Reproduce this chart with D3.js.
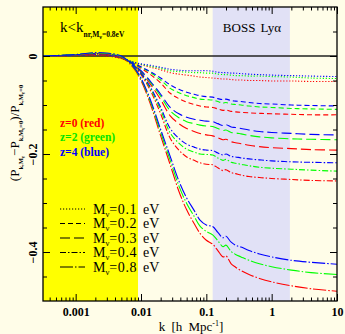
<!DOCTYPE html>
<html>
<head>
<meta charset="utf-8">
<script src="https://cdn.jsdelivr.net/npm/d3@7/dist/d3.min.js"></script>
<style>
  html, body { margin: 0; padding: 0; background: #fffde8; }
  svg { display: block; }
  text { font-family: "Liberation Serif", "DejaVu Serif", serif; fill: #000; }
</style>
</head>
<body>
<svg id="chart" width="345" height="334"></svg>
<script>
// wavenumbers k [h/Mpc] at which the power-spectrum ratios are tabulated
const kGrid = [0.000316, 0.001, 0.002, 0.003, 0.005, 0.0075, 0.01, 0.014, 0.02, 0.028, 0.038, 0.05, 0.065, 0.08,
               0.1, 0.125, 0.15, 0.18, 0.2, 0.24, 0.28, 0.34, 0.45, 0.65, 1, 2, 4, 10];

// (P_{k,Mnu} - P_{k,Mnu=0}) / P_{k,Mnu=0}, one array per neutrino mass and redshift
const m01_z0 = [0, 0.001, 0.001, 0.000, -0.005, -0.013, -0.018, -0.023, -0.028, -0.034, -0.037, -0.039, -0.041, -0.043, -0.044, -0.045, -0.046, -0.047, -0.047, -0.048, -0.049, -0.049, -0.050, -0.050, -0.051, -0.051, -0.052, -0.052];
const m01_z2 = [0, 0.001, 0.002, 0.001, -0.004, -0.012, -0.017, -0.021, -0.025, -0.030, -0.032, -0.033, -0.034, -0.034, -0.035, -0.035, -0.037, -0.038, -0.038, -0.039, -0.040, -0.040, -0.041, -0.041, -0.042, -0.043, -0.045, -0.046];
const m01_z4 = [0, 0.001, 0.002, 0.001, -0.004, -0.012, -0.016, -0.019, -0.023, -0.027, -0.029, -0.030, -0.030, -0.030, -0.030, -0.031, -0.033, -0.034, -0.034, -0.035, -0.035, -0.036, -0.037, -0.038, -0.039, -0.040, -0.041, -0.042];

const m02_z0 = [0, 0.001, 0.002, 0.001, -0.005, -0.015, -0.025, -0.038, -0.055, -0.076, -0.087, -0.094, -0.099, -0.102, -0.104, -0.105, -0.108, -0.111, -0.110, -0.113, -0.114, -0.115, -0.116, -0.117, -0.118, -0.119, -0.120, -0.120];
const m02_z2 = [0, 0.001, 0.003, 0.002, -0.004, -0.014, -0.023, -0.034, -0.049, -0.066, -0.075, -0.081, -0.085, -0.088, -0.089, -0.090, -0.093, -0.096, -0.095, -0.098, -0.099, -0.100, -0.102, -0.104, -0.105, -0.107, -0.108, -0.109];
const m02_z4 = [0, 0.001, 0.003, 0.002, -0.004, -0.014, -0.022, -0.032, -0.045, -0.059, -0.068, -0.074, -0.078, -0.081, -0.083, -0.084, -0.087, -0.089, -0.088, -0.091, -0.092, -0.093, -0.095, -0.097, -0.098, -0.100, -0.101, -0.102];

const m03_z0 = [0, 0.001, 0.003, 0.002, -0.004, -0.017, -0.033, -0.058, -0.089, -0.122, -0.138, -0.148, -0.154, -0.158, -0.161, -0.163, -0.167, -0.171, -0.170, -0.175, -0.177, -0.179, -0.182, -0.185, -0.187, -0.189, -0.191, -0.192];
const m03_z2 = [0, 0.002, 0.004, 0.003, -0.003, -0.016, -0.031, -0.054, -0.082, -0.112, -0.126, -0.134, -0.138, -0.141, -0.143, -0.144, -0.148, -0.152, -0.151, -0.156, -0.157, -0.159, -0.162, -0.165, -0.167, -0.169, -0.170, -0.171];
const m03_z4 = [0, 0.002, 0.004, 0.003, -0.003, -0.016, -0.030, -0.052, -0.078, -0.105, -0.118, -0.125, -0.129, -0.131, -0.133, -0.134, -0.138, -0.142, -0.140, -0.145, -0.146, -0.148, -0.151, -0.154, -0.156, -0.158, -0.160, -0.161];

const m04_z0 = [0, 0.002, 0.004, 0.003, -0.003, -0.019, -0.038, -0.071, -0.118, -0.168, -0.192, -0.206, -0.213, -0.218, -0.221, -0.222, -0.228, -0.234, -0.232, -0.238, -0.240, -0.243, -0.246, -0.248, -0.250, -0.252, -0.254, -0.255];
const m04_z2 = [0, 0.002, 0.005, 0.004, -0.002, -0.018, -0.036, -0.067, -0.110, -0.157, -0.178, -0.190, -0.196, -0.200, -0.201, -0.202, -0.208, -0.213, -0.211, -0.217, -0.219, -0.221, -0.224, -0.227, -0.229, -0.231, -0.233, -0.235];
const m04_z4 = [0, 0.002, 0.005, 0.004, -0.002, -0.017, -0.035, -0.064, -0.105, -0.148, -0.168, -0.180, -0.186, -0.190, -0.192, -0.193, -0.198, -0.202, -0.200, -0.205, -0.206, -0.208, -0.210, -0.212, -0.214, -0.216, -0.217, -0.218];

const m08_z0 = [0, 0.002, 0.005, 0.004, -0.002, -0.023, -0.050, -0.099, -0.163, -0.222, -0.276, -0.314, -0.342, -0.362, -0.376, -0.384, -0.397, -0.410, -0.408, -0.424, -0.431, -0.438, -0.446, -0.454, -0.461, -0.469, -0.475, -0.480];
const m08_z2 = [0, 0.003, 0.006, 0.005, -0.001, -0.021, -0.047, -0.094, -0.156, -0.213, -0.265, -0.301, -0.327, -0.347, -0.358, -0.365, -0.377, -0.389, -0.386, -0.399, -0.405, -0.410, -0.417, -0.424, -0.430, -0.437, -0.442, -0.446];
const m08_z4 = [0, 0.003, 0.007, 0.006, 0.000, -0.020, -0.045, -0.090, -0.150, -0.205, -0.255, -0.290, -0.315, -0.335, -0.345, -0.348, -0.360, -0.371, -0.368, -0.380, -0.386, -0.390, -0.397, -0.404, -0.410, -0.417, -0.421, -0.425];

const massLabels = ["0.1", "0.2", "0.3", "0.4", "0.8"];
const redshiftLabels = ["z=0 (red)", "z=2 (green)", "z=4 (blue)"];
const redshiftColors = ["#ff0000", "#00ff00", "#0000ff"];
const redshiftTextColors = ["#ff0000", "#00e600", "#0000ff"];
const xTickValues = [0.001, 0.01, 0.1, 1, 10];
const xTickLabels = ["0.001", "0.01", "0.1", "1", "10"];
const yTickValues = [0, -0.2, -0.4];
const yTickLabels = ["0", "\u22120.2", "\u22120.4"];
const nonlinearLimit = 0.009;       // k below k_nr for the 0.8 eV case
const bossRange = [0.125, 1.9];     // BOSS Lyman-alpha k range

// series grouped by mass (rows) and redshift (columns: z=0, z=2, z=4)
const seriesByMass = [
  [m01_z0, m01_z2, m01_z4],
  [m02_z0, m02_z2, m02_z4],
  [m03_z0, m03_z2, m03_z4],
  [m04_z0, m04_z2, m04_z4],
  [m08_z0, m08_z2, m08_z4]
];
const dashes = ["1.2,1.8", "5,3", "10,4", "6,2,1.5,2", "13,2,1.5,2"];

const svg = d3.select("#chart");
const L = 43, R = 337, T = 7, B = 301;

const x = d3.scaleLog().domain([Math.pow(10, -3.5), 10]).range([L, R]);
const y = d3.scaleLinear().domain([-0.5, 0.1]).range([B, T]);

svg.append("defs").append("clipPath").attr("id", "plotclip")
  .append("rect").attr("x", L).attr("y", T).attr("width", R - L).attr("height", B - T);

// shaded k ranges
svg.append("rect").attr("x", L).attr("y", T)
  .attr("width", x(nonlinearLimit) - L).attr("height", B - T).attr("fill", "#ffff00");
svg.append("rect").attr("x", x(bossRange[0])).attr("y", T)
  .attr("width", x(bossRange[1]) - x(bossRange[0])).attr("height", B - T).attr("fill", "#e1e1f6");

// zero reference line
svg.append("line").attr("x1", L).attr("x2", R).attr("y1", y(0)).attr("y2", y(0))
  .attr("stroke", "#222").attr("stroke-width", 1.3);

// ratio curves
const line = d3.line().x((d, i) => x(kGrid[i])).y(d => y(d)).curve(d3.curveCatmullRom.alpha(0.5));
const curves = svg.append("g").attr("clip-path", "url(#plotclip)");
seriesByMass.forEach((row, mi) => {
  row.forEach((vals, zi) => {
    curves.append("path").datum(vals)
      .attr("d", line)
      .attr("fill", "none")
      .attr("stroke", redshiftColors[zi])
      .attr("stroke-width", 1.1)
      .attr("stroke-dasharray", dashes[mi]);
  });
});

// axes with inward ticks on all four sides
const minorX = [];
for (let e = -4; e <= 0; e++) for (let m = 2; m <= 9; m++) {
  const v = m * Math.pow(10, e);
  if (v > x.domain()[0] && v < 10) minorX.push(v);
}
const minorY = d3.range(-0.45, 0.1, 0.05).map(v => +v.toFixed(2)).filter(v => yTickValues.indexOf(v) < 0);

function styleAxis(g) {
  g.select(".domain").remove();
  g.selectAll(".tick line").attr("stroke", "#000").attr("stroke-width", 1);
}

svg.append("g").attr("transform", `translate(0,${B})`)
  .call(d3.axisBottom(x).tickValues(xTickValues).tickSize(-7).tickPadding(15)
    .tickFormat((d, i) => xTickLabels[i]))
  .call(styleAxis)
  .call(g => g.selectAll("text").attr("font-size", 12).attr("font-weight", "bold")
    .attr("font-family", "Liberation Serif").attr("dy", 0));
svg.append("g").attr("transform", `translate(0,${B})`)
  .call(d3.axisBottom(x).tickValues(minorX).tickSize(-3.5).tickFormat(""))
  .call(styleAxis);
svg.append("g").attr("transform", `translate(0,${T})`)
  .call(d3.axisTop(x).tickValues(xTickValues).tickSize(-7).tickFormat(""))
  .call(styleAxis);
svg.append("g").attr("transform", `translate(0,${T})`)
  .call(d3.axisTop(x).tickValues(minorX).tickSize(-3.5).tickFormat(""))
  .call(styleAxis);

svg.append("g").attr("transform", `translate(${L},0)`)
  .call(d3.axisLeft(y).tickValues(yTickValues).tickSize(-7)
    .tickFormat((d, i) => yTickLabels[i]))
  .call(styleAxis)
  .call(g => g.selectAll("text")
    .attr("transform", "rotate(-90)")
    .attr("x", 0).attr("y", -6).attr("dy", 0)
    .attr("text-anchor", "middle")
    .attr("font-size", 12).attr("font-weight", "bold").attr("font-family", "Liberation Serif"));
svg.append("g").attr("transform", `translate(${L},0)`)
  .call(d3.axisLeft(y).tickValues(minorY).tickSize(-4).tickFormat(""))
  .call(styleAxis);
svg.append("g").attr("transform", `translate(${R},0)`)
  .call(d3.axisRight(y).tickValues(yTickValues).tickSize(-7).tickFormat(""))
  .call(styleAxis);
svg.append("g").attr("transform", `translate(${R},0)`)
  .call(d3.axisRight(y).tickValues(minorY).tickSize(-4).tickFormat(""))
  .call(styleAxis);

// frame
svg.append("rect").attr("x", L).attr("y", T).attr("width", R - L).attr("height", B - T)
  .attr("fill", "none").attr("stroke", "#000").attr("stroke-width", 1.3);

// text with sub/subscript levels: parts = [[string, level, bold?], ...]
function rich(textSel, parts, size, scale) {
  const shift = [0, 0.3, 0.45];
  let cur = 0;
  parts.forEach(([s, lvl, bold]) => {
    const off = shift[lvl] * size;
    const ts = textSel.append("tspan")
      .attr("dy", off - cur)
      .attr("font-size", size * scale[lvl])
      .text(s);
    if (bold) ts.attr("font-weight", "bold");
    cur = off;
  });
  return textSel;
}

// y-axis title
const yTitle = svg.append("text")
  .attr("transform", "translate(19,133) rotate(-90)")
  .attr("text-anchor", "middle");
rich(yTitle, [["(P", 0], ["k,M", 1, 1], ["\u03bd", 2, 1], ["\u2212P", 0], ["k,M", 1, 1], ["\u03bd", 2, 1], ["=0", 1, 1],
              [")/P", 0], ["k,M", 1, 1], ["\u03bd", 2, 1], ["=0", 1, 1]], 13, [1, 0.5, 0.4]);

// x-axis title
const xTitle = svg.append("text").attr("x", 191).attr("y", 331)
  .attr("text-anchor", "middle").attr("font-size", 13).attr("word-spacing", 3);
xTitle.append("tspan").text("k [h Mpc");
xTitle.append("tspan").attr("dy", -5).attr("font-size", 8).text("-1");
xTitle.append("tspan").attr("dy", 5).text("]");

// region annotations
const knr = svg.append("text").attr("x", 60).attr("y", 32);
rich(knr, [["k<k", 0], ["nr,M", 1, 1], ["\u03bd", 2, 1], ["=0.8eV", 1, 1]], 15, [1, 0.5, 0.4]);

svg.append("text").attr("x", 252).attr("y", 32).attr("text-anchor", "middle")
  .attr("font-size", 13).attr("word-spacing", 2).text("BOSS Ly\u03b1");

// redshift legend
redshiftLabels.forEach((lab, i) => {
  svg.append("text").attr("x", 60).attr("y", 127 + i * 14.3)
    .attr("font-size", 11.5).attr("font-weight", "bold")
    .style("fill", redshiftTextColors[i])
    .text(lab);
});

// neutrino-mass legend
massLabels.forEach((m, i) => {
  const yy = 209 + i * 14.5;
  svg.append("line").attr("x1", 60).attr("x2", 85).attr("y1", yy).attr("y2", yy)
    .attr("stroke", "#000").attr("stroke-width", 1.1).attr("stroke-dasharray", dashes[i]);
  const t = svg.append("text").attr("x", 93).attr("y", yy + 4.5).attr("font-size", 14);
  t.append("tspan").text("M");
  t.append("tspan").attr("dy", 3).attr("font-size", 8.5).text("\u03bd");
  t.append("tspan").attr("dy", -3).attr("letter-spacing", 0.6).text("=" + m);
  t.append("tspan").attr("dx", 6).text("eV");
});
</script>
</body>
</html>
